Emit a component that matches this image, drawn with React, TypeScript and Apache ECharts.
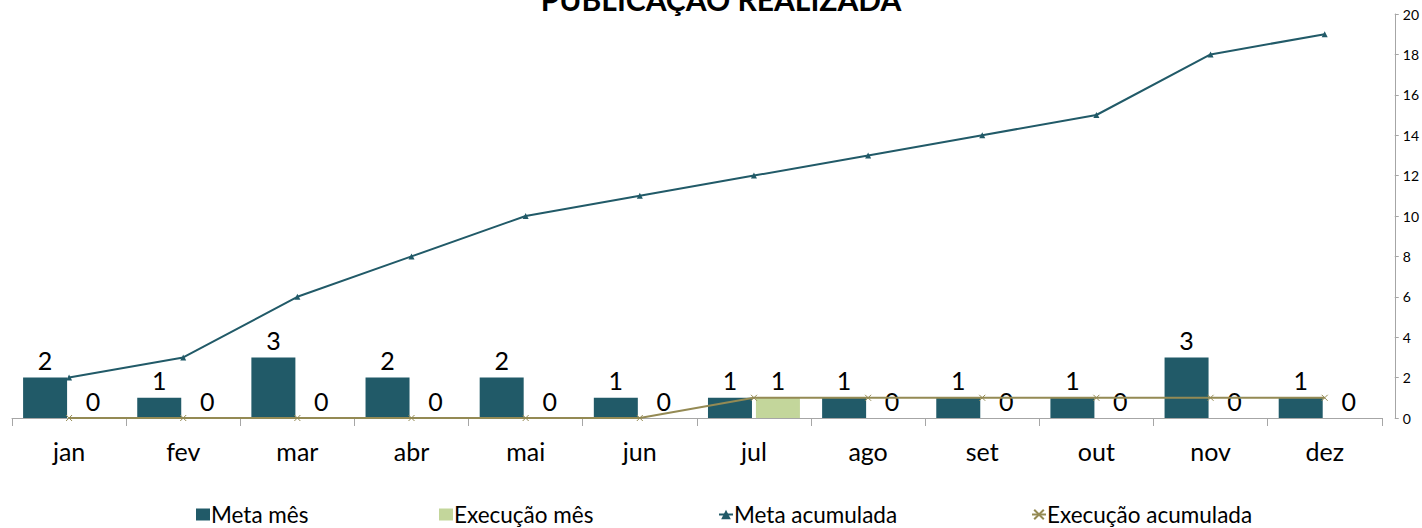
import React, { useEffect, useRef } from "react";
import * as echarts from "echarts";

const months = ["jan", "fev", "mar", "abr", "mai", "jun", "jul", "ago", "set", "out", "nov", "dez"];
const metaMes = [2, 1, 3, 2, 2, 1, 1, 1, 1, 1, 3, 1];
const execucaoMes = [0, 0, 0, 0, 0, 0, 1, 0, 0, 0, 0, 0];
const metaAcumulada = [2, 3, 6, 8, 10, 11, 12, 13, 14, 15, 18, 19];
const execucaoAcumulada = [0, 0, 0, 0, 0, 0, 1, 1, 1, 1, 1, 1];

const seriesNames = ["Meta mês", "Execução mês", "Meta acumulada", "Execução acumulada"];

const FONT = "Lato, 'Noto Sans', sans-serif";
const TEAL = "#215a68";
const GREEN = "#c3d69b";
const OLIVE = "#948a54";

export default function App() {
  const ref = useRef<HTMLDivElement>(null);
  useEffect(() => {
    if (!ref.current) return;
    const chart = echarts.init(ref.current, undefined, { renderer: "svg" });
    const legendLefts = [196, 439, 718, 1031];
    chart.setOption({
      animation: false,
      backgroundColor: "#ffffff",
      title: {
        text: "PUBLICAÇÃO REALIZADA",
        left: 716,
        textAlign: "center",
        top: -21,
        textStyle: { fontFamily: FONT, fontWeight: "bold", fontSize: 30, color: "#000" },
      },
      legend: seriesNames.map((name, i) => ({
        top: 503,
        left: legendLefts[i],
        padding: 0,
        itemWidth: 14,
        itemHeight: 12,
        textStyle: { fontFamily: FONT, fontSize: 22.5, color: "#000", padding: [0, 0, 0, -4] },
        data: [i < 2 ? { name, icon: "rect" } : { name }],
      })),
      grid: { left: 12, right: 38, top: 14, bottom: 110, containLabel: false },
      xAxis: {
        type: "category",
        data: months,
        axisLine: { lineStyle: { color: "#a6a6a6", width: 1 } },
        axisTick: { show: true, length: 8, lineStyle: { color: "#a6a6a6" } },
        axisLabel: { fontFamily: FONT, fontSize: 25, color: "#000", margin: 20 },
      },
      yAxis: {
        type: "value",
        position: "right",
        offset: 13,
        min: 0,
        max: 20,
        interval: 2,
        splitLine: { show: false },
        axisLine: { show: true, lineStyle: { color: "#a6a6a6" } },
        axisTick: { show: true, length: 4, lineStyle: { color: "#a6a6a6" } },
        axisLabel: { fontFamily: FONT, fontSize: 14, color: "#000", margin: 8 },
      },
      series: [
        {
          name: seriesNames[0],
          type: "bar",
          data: metaMes,
          barWidth: 44,
          barGap: "9%",
          itemStyle: { color: TEAL },
          label: { show: true, position: "top", distance: 5, fontFamily: FONT, fontSize: 25, color: "#000" },
          z: 2,
        },
        {
          name: seriesNames[1],
          type: "bar",
          data: execucaoMes,
          barWidth: 44,
          itemStyle: { color: GREEN },
          label: { show: true, position: "top", distance: 5, fontFamily: FONT, fontSize: 25, color: "#000" },
          z: 2,
        },
        {
          name: seriesNames[2],
          type: "line",
          data: metaAcumulada,
          symbol: "triangle",
          symbolSize: 6,
          lineStyle: { color: TEAL, width: 2 },
          itemStyle: { color: TEAL },
          z: 3,
        },
        {
          name: seriesNames[3],
          type: "line",
          data: execucaoAcumulada,
          symbol: "path://M0,0L10,10M10,0L0,10",
          symbolSize: 6,
          lineStyle: { color: OLIVE, width: 2 },
          itemStyle: { color: OLIVE, borderColor: OLIVE, borderWidth: 1 },
          z: 3,
        },
      ],
    });
    return () => chart.dispose();
  }, []);
  return <div ref={ref} style={{ position: "fixed", left: 0, top: 0, width: 1422, height: 528 }} />;
}
